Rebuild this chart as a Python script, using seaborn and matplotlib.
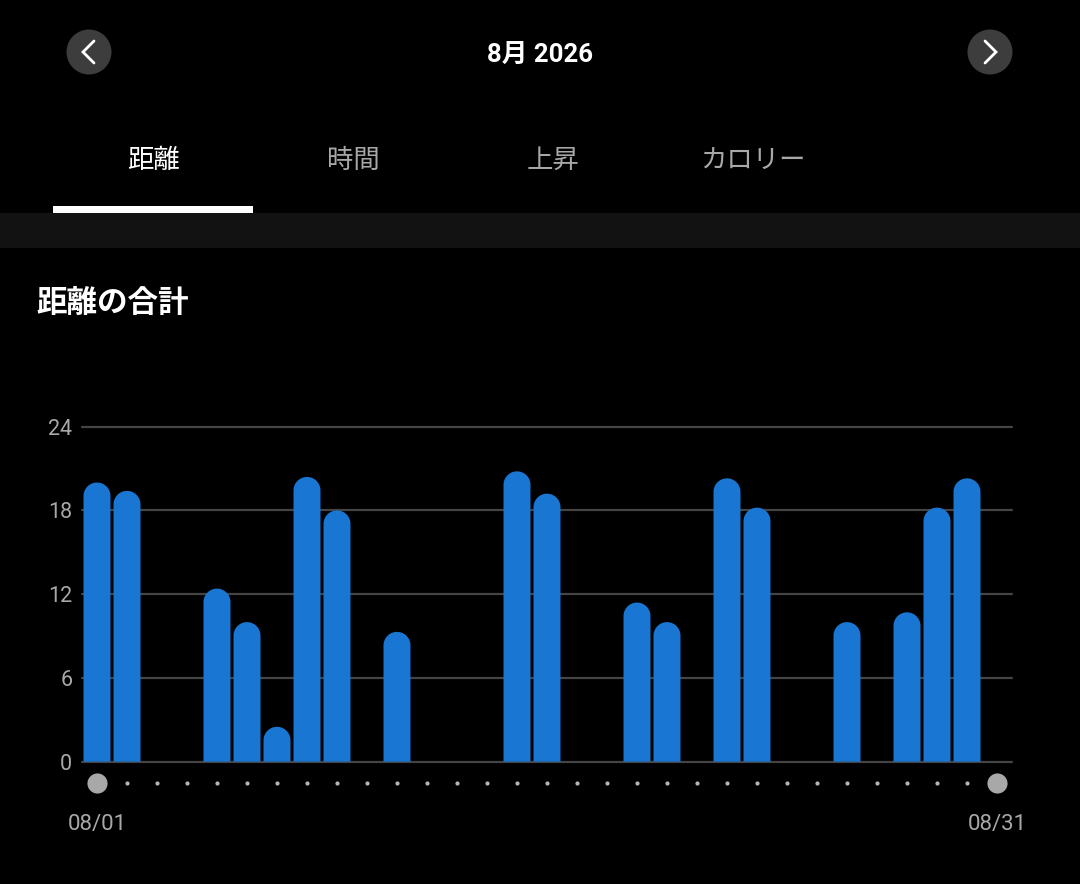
import matplotlib
matplotlib.use("Agg")
import matplotlib.pyplot as plt
from matplotlib.patches import Polygon, Circle, Rectangle
from matplotlib.transforms import blended_transform_factory
import seaborn as sns
import numpy as np
import pandas as pd

# data (km per day, August 2026)
month_days = list(range(1, 32))
active_days = [1, 2, 5, 6, 7, 8, 9, 11, 15, 16, 19, 20, 22, 23, 26, 28, 29, 30]
distances = [20.0, 19.4, 12.4, 10.0, 2.5, 20.4, 18.0, 9.3, 20.8, 19.2,
             11.4, 10.0, 20.3, 18.2, 10.0, 10.7, 18.2, 20.3]
y_ticks = [0, 6, 12, 18, 24]
tab_labels = ["距離", "時間", "上昇", "カロリー"]
month_title = "8月 2026"
chart_title = "距離の合計"
first_label, last_label = "08/01", "08/31"

BAR_COLOR = "#1976d2"
GRID_COLOR = "#444444"
MUTED = "#a8a8a8"

sns.set_theme(style="dark")
plt.rcParams["font.family"] = ["Roboto", "Noto Sans CJK JP", "DejaVu Sans"]

df = pd.DataFrame({"day": month_days})
df["distance"] = df["day"].map(dict(zip(active_days, distances))).fillna(0.0)
df["label"] = df["day"].map(lambda d: f"08/{d:02d}")

W, H = 1080, 884
fig = plt.figure(figsize=(W / 100, H / 100), dpi=100, facecolor="black")

# page chrome drawn in pixel coordinates
bg = fig.add_axes([0, 0, 1, 1], zorder=0)
bg.set_xlim(0, W)
bg.set_ylim(H, 0)
bg.axis("off")
bg.add_patch(Rectangle((0, 213), W, 35, color="#121212", lw=0))
bg.add_patch(Rectangle((53, 206), 200, 7, color="white", lw=0))
for cx, sign in [(89, -1), (990, 1)]:
    bg.add_patch(Circle((cx, 52), 22.5, color="#3d3d3d", lw=0))
    bg.plot([cx - 5 * sign, cx + 6 * sign, cx - 5 * sign], [41, 52, 63],
            color="white", lw=2.0, solid_capstyle="round", solid_joinstyle="miter")
bg.text(540, 55, month_title, color="white", fontsize=18.5, fontweight="bold",
        ha="center", va="center")
for i, lab in enumerate(tab_labels):
    bg.text(153 + 200 * i, 161, lab, color="white" if i == 0 else MUTED,
            fontsize=19, ha="center", va="center")
bg.text(36, 303, chart_title, color="white", fontsize=22, fontweight="bold",
        ha="left", va="center")

# bar chart
ax_left, ax_right = 82 / W, 1012 / W
ax_bottom = (H - 761.7) / H
ax_top = (H - 412.7) / H
ax = fig.add_axes([ax_left, ax_bottom, ax_right - ax_left, ax_top - ax_bottom], zorder=1)
ax.set_facecolor("black")

sns.barplot(data=df, x="label", y="distance", order=df["label"], color=BAR_COLOR,
            width=0.9, saturation=1, ax=ax, zorder=3)
ax.set_xlim(-0.5, 30.5)
ax.set_ylim(0, 25)

# swap plain rectangles for bars with round tops (circle in screen space)
x_px = ax.transData.transform((1, 0))[0] - ax.transData.transform((0, 0))[0]
y_px = ax.transData.transform((0, 1))[1] - ax.transData.transform((0, 0))[1]
theta = np.linspace(0, np.pi, 40)
for p in list(ax.patches):
    x, w, h = p.get_x(), p.get_width(), p.get_height()
    p.remove()
    if h <= 0:
        continue
    rx = w / 2
    ry = rx * x_px / y_px
    cy = max(h - ry, 0)
    arc = np.column_stack([x + rx + rx * np.cos(theta), cy + ry * np.sin(theta)])
    verts = np.vstack([[x + w, 0], arc, [x, 0]])
    ax.add_patch(Polygon(verts, closed=True, color=BAR_COLOR, lw=0, zorder=3))

for t in y_ticks:
    ax.axhline(t, color=GRID_COLOR, lw=1.6, zorder=1, clip_on=False)

for s in ax.spines.values():
    s.set_visible(False)
ax.grid(False)
ax.set_xlabel("")
ax.set_ylabel("")
ax.set_yticks(y_ticks)
ax.set_yticklabels([str(t) for t in y_ticks])
ax.tick_params(axis="y", length=0, pad=7, labelsize=15.5, labelcolor=MUTED)
ax.set_xticks([0, 30])
ax.set_xticklabels([first_label, last_label])
ax.tick_params(axis="x", length=0, pad=38, labelsize=16, labelcolor=MUTED)

# day markers under the axis
trans = blended_transform_factory(ax.transData, ax.transAxes)
dot_y = -(783 - 761.7) / ((ax_top - ax_bottom) * H)
ax.scatter(range(1, 30), [dot_y] * 29, s=9, color="#b5b5b5", transform=trans,
           clip_on=False, lw=0, zorder=4)
ax.scatter([0, 30], [dot_y] * 2, s=210, color=MUTED, transform=trans,
           clip_on=False, lw=0, zorder=4)

fig.savefig("out.png", dpi=100, facecolor="black")
